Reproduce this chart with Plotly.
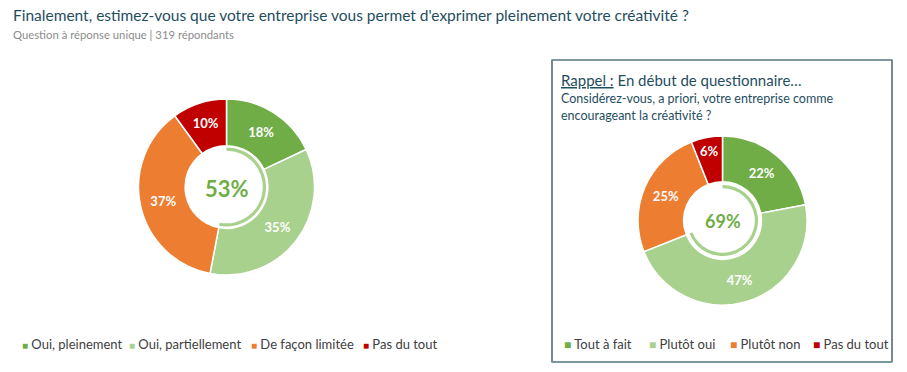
import plotly.graph_objects as go

# ---- data ----
left_labels = ["Oui, pleinement", "Oui, partiellement", "De façon limitée", "Pas du tout"]
left_values = [18, 35, 37, 10]
left_positive = 53

right_labels = ["Tout à fait", "Plutôt oui", "Plutôt non", "Pas du tout"]
right_values = [22, 47, 25, 6]
right_positive = 69

colors = ["#70AD47", "#A9D18E", "#ED7D31", "#C00000"]

title_text = "Finalement, estimez-vous que votre entreprise vous permet d'exprimer pleinement votre créativité ?"
subtitle_text = "Question à réponse unique | 319 répondants"
box_title = "<u>Rappel :</u> En début de questionnaire…"
box_q1 = "Considérez-vous, a priori, votre entreprise comme"
box_q2 = "encourageant la créativité ?"

W, H = 907, 372
FONT = "Lato"
DARK = "#1F4E5F"


def dom(cx, cy, r):
    return dict(x=[(cx - r) / W, (cx + r) / W], y=[(H - cy - r) / H, (H - cy + r) / H])


fig = go.Figure()


def donut(labels, values, cx, cy, r, hole, fs):
    fig.add_trace(go.Pie(
        labels=labels, values=values, sort=False, direction="clockwise", rotation=0,
        hole=hole, domain=dom(cx, cy, r),
        marker=dict(colors=colors, line=dict(color="white", width=1.5)),
        texttemplate="%{value}%", textposition="inside", insidetextorientation="horizontal",
        textfont=dict(family=FONT, size=fs, color="white", weight="bold"),
        showlegend=False, hoverinfo="label+value",
    ))


def arc(pct, cx, cy, r, hole):
    fig.add_trace(go.Pie(
        values=[pct, 100 - pct], sort=False, direction="clockwise", rotation=0,
        hole=hole, domain=dom(cx, cy, r),
        marker=dict(colors=["#A9D18E", "rgba(0,0,0,0)"], line=dict(width=0)),
        textinfo="none", hoverinfo="skip", showlegend=False,
    ))


donut(left_labels, left_values, 226.5, 187, 88, 0.47, 13)
arc(left_positive, 226.5, 187, 39.5, 0.92)
donut(right_labels, right_values, 722.5, 220.5, 84.5, 0.46, 13)
arc(right_positive, 722.5, 220.5, 35.5, 0.91)

ann = []


def txt(x, y, text, size, color, xanchor="left", bold=False):
    ann.append(dict(x=x / W, y=1 - y / H, xref="paper", yref="paper", text=text, showarrow=False,
                    xanchor=xanchor, yanchor="middle",
                    font=dict(family=FONT, size=size, color=color, weight="bold" if bold else "normal")))


txt(11, 15, title_text, 15.5, DARK)
txt(11, 34, subtitle_text, 11.3, "#8C8C8C")
txt(226.5, 188, f"{left_positive}%", 22, "#70AD47", "center", True)
txt(722.5, 221, f"{right_positive}%", 18, "#70AD47", "center", True)
txt(559, 80, box_title, 15, DARK)
txt(559, 98, box_q1, 12.5, DARK)
txt(559, 116, box_q2, 12.5, DARK)

left_x = [20, 127, 249, 361]
for lab, c, x in zip(left_labels, colors, left_x):
    txt(x, 344, f"<span style='color:{c};font-size:10px'>■</span> {lab}", 13, "#404040")
right_x = [562, 647, 728, 811]
for lab, c, x in zip(right_labels, colors, right_x):
    txt(x, 344, f"<span style='color:{c};font-size:12px'>■</span> {lab}", 13, "#404040")

shapes = [
    dict(type="rect", xref="paper", yref="paper", x0=552 / W, x1=892 / W, y0=1 - 362 / H, y1=1 - 60 / H,
         line=dict(color="#1F3B4A", width=1.2), fillcolor="rgba(0,0,0,0)"),
    dict(type="line", xref="paper", yref="paper", x0=552 / W, x1=892 / W, y0=1 - 60 / H, y1=1 - 60 / H,
         line=dict(color="#7A96A0", width=1.5)),
    dict(type="line", xref="paper", yref="paper", x0=552 / W, x1=892 / W, y0=1 - 362 / H, y1=1 - 362 / H,
         line=dict(color="#7A96A0", width=2.2)),
]

fig.update_layout(
    width=W, height=H, margin=dict(l=0, r=0, t=0, b=0),
    paper_bgcolor="white", plot_bgcolor="white",
    annotations=ann, shapes=shapes, showlegend=False,
)

fig.write_html("out.html", config={"displayModeBar": False},
               post_script="document.body.style.margin='0';document.body.style.overflow='hidden';")
